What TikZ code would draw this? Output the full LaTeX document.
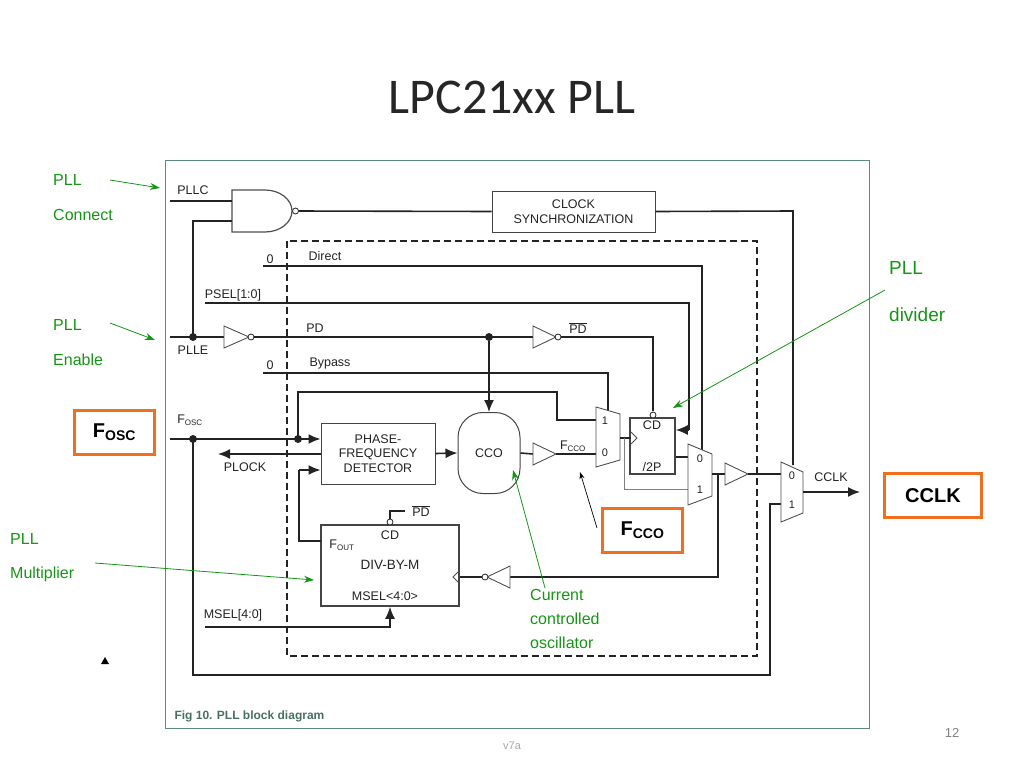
\documentclass[tikz,border=0pt]{standalone}
\usepackage{fontspec}
\setmainfont{Liberation Sans}
\newfontfamily\titlefont{Carlito}
\usetikzlibrary{arrows.meta}
\definecolor{frame}{RGB}{90,140,120}
\definecolor{ann}{RGB}{20,150,20}
\definecolor{org}{RGB}{240,110,30}
\definecolor{ink}{RGB}{35,35,35}
\tikzset{
  w/.style={line width=1.6pt,draw=ink},
  thin/.style={line width=0.9pt,draw=ink!80},
  arr/.style={-{Latex[length=12pt,width=10pt]}},
  lbl/.style={font=\fontsize{12.5}{14}\selectfont,text=ink,inner sep=0pt},
  box/.style={draw=ink!85,line width=1pt,font=\fontsize{12.5}{14.5}\selectfont,align=center,text=ink},
  an/.style={text=ann,font=\fontsize{16}{18}\selectfont,inner sep=0pt,anchor=west},
  ga/.style={draw=ann,line width=0.8pt,-{Stealth[length=10pt,width=7pt]}},
  ob/.style={draw=org,line width=3pt,fill=white,font=\bfseries\fontsize{20}{22}\selectfont,minimum height=44pt,inner sep=0pt},
  bub/.style={circle,draw=ink,fill=white,line width=0.8pt,inner sep=0pt,minimum size=6pt},
  dot/.style={circle,fill=ink,inner sep=0pt,minimum size=8pt},
  mx/.style={lbl,font=\fontsize{11}{12}\selectfont},
}
\begin{document}
\begin{tikzpicture}[x=1pt,y=-1pt]
\useasboundingbox (0,0) rectangle (1024,768);
\node[font=\titlefont\fontsize{50}{56}\selectfont,text=black!85] (title) at (512,97) {LPC21xx PLL};
\draw[frame,line width=1pt] (165,160) rectangle (869,728);
\node[anchor=west,text=frame!80!black,font=\bfseries\fontsize{12}{14}\selectfont] (cap) at (171,716) {Fig 10. PLL block diagram};
\draw[w,dash pattern=on 7pt off 4pt] (287,241) rectangle (757,656);
\node[box,minimum width=163pt,minimum height=41pt] (sync) at (573.5,211.5) {CLOCK\\SYNCHRONIZATION};
\node[box,minimum width=114pt,minimum height=61pt] (pfd) at (378,453.5) {PHASE-\\FREQUENCY\\DETECTOR};
\node[box,rounded corners=25pt,minimum width=62pt,minimum height=81pt] (cco) at (489,453) {CCO};
\node[box,line width=1.6pt,minimum width=45pt,minimum height=56pt] (cd) at (652.5,446) {};
\node[lbl] at (652,425) {CD}; \node[lbl] at (652,467) {/2P};
\node[box,line width=1.6pt,minimum width=138pt,minimum height=81pt] (div) at (390,565.5) {};
\node[lbl] at (390,535) {CD}; \node[lbl,font=\fontsize{13.5}{15}\selectfont] at (390,565) {DIV-BY-M};
\node[lbl] at (385,596) {MSEL<4:0>};
\draw[thin,line width=1.2pt,fill=white] (232,190) -- (265,190) arc (-90:90:27 and 21) -- (232,232) -- cycle;
\node[bub] (nb) at (295.5,211) {};
\coordinate (pllc) at (170,201);
\coordinate (plle) at (170,337);
\coordinate (fosc) at (170,439);
\draw[w] (pllc) -- (232,201);
\draw[w] (232,221) -- (193,221) -- (193,337);
\node[dot] (d1) at (193,337) {};
\draw[w] (plle) -- (224,337);
\draw[thin,fill=white] (224,326) -- (249,337) -- (224,348) -- cycle;
\node[bub] (ib1) at (251,337) {};
\draw[w] (ib1) -- (533,337);
\node[dot] (d2) at (489,337) {};
\draw[w,arr] (d2) -- (cco.north);
\draw[thin,fill=white] (533,326) -- (556,337) -- (533,348) -- cycle;
\node[bub] (ib2) at (558,337) {};
\draw[w] (ib2) -- (653,337) -- (653,411);
\node[bub] (cdb) at (653,415) {};
\draw[w] (nb) -- (sync.west);
\draw[w] (sync.east) -- (793,211) -- (793,465);
\draw[w] (263,266) -- (702,266) -- (702,450);
\draw[w] (205,303) -- (689,303) -- (689,430);
\draw[w,arr] (689,430) -- (cd.east|-0,430);
\draw[w] (263,373) -- (608,373) -- (608,411);
\draw[w,arr] (fosc) -- (pfd.west|-0,439);
\node[dot] (d3) at (193,439) {};
\node[dot] (d4) at (298,439) {};
\draw[w] (298,439) -- (298,392) -- (557,392) -- (557,420) -- (596,420);
\draw[w] (193,439) -- (193,675) -- (770,675) -- (770,504) -- (781,504);
\coordinate (plock) at (218,454);
\draw[w,arr] (pfd.west|-0,454) -- (plock);
\draw[w] (321,541) -- (299,541) -- (299,470);
\draw[w,arr] (299,470) -- (pfd.west|-0,470);
\draw[w,arr] (pfd.east) -- (cco.west);
\draw[w] (cco.east) -- (533,454);
\draw[thin,fill=white] (533,443) -- (556,454) -- (533,465) -- cycle;
\draw[w] (556,454) -- (596,454);
\draw[thin,fill=white] (596,407) -- (620,414) -- (620,460) -- (596,467) -- cycle;
\node[mx] at (605,421) {1};
\node[mx] at (605,453) {0};
\draw[w] (620,438) -- (631,438);
\draw[thin,fill=white] (631,432) -- (637,438) -- (631,444);
\draw[draw=gray,line width=1pt] (624,438) -- (624,489) -- (688,489);
\draw[w] (cd.east|-0,457) -- (688,457);
\draw[thin,fill=white] (688,444) -- (712,454) -- (712,496) -- (688,505) -- cycle;
\node[mx] at (700,459) {0};
\node[mx] at (700,490) {1};
\draw[w] (712,474) -- (725,474);
\draw[thin,fill=white] (725,463) -- (748,474) -- (725,485) -- cycle;
\draw[w] (748,474) -- (781,474);
\draw[w] (718,474) -- (718,577) -- (510,577);
\draw[thin,fill=white] (510,566) -- (487,577) -- (510,588) -- cycle;
\node[bub] (ib3) at (485,577) {};
\draw[w] (ib3) -- (div.east|-0,577);
\draw[thin] (459,571) -- (453,577) -- (459,583);
\draw[thin,fill=white] (781,462) -- (803,472) -- (803,513) -- (781,522) -- cycle;
\node[mx] at (792,476) {0};
\node[mx] at (792,505) {1};
\coordinate (cclk) at (860,492);
\draw[w,arr] (803,492) -- (cclk);
\node[bub] (db) at (390,522) {};
\draw[w] (db) -- (390,511) -- (405,511);
\draw[w,arr] (205,627) -- (390,627) -- (div.south);
\node[lbl] at (193,190) {PLLC};
\node[lbl] at (193,350) {PLLE};
\node[lbl] at (190,420) {F\textsubscript{\fontsize{8}{9}\selectfont OSC}};
\node[lbl] at (270,259) {0}; \node[lbl] at (325,256) {Direct};
\node[lbl] at (233,295) {PSEL[1:0]};
\node[lbl] at (315,328) {PD};
\node[lbl] at (578,328) {$\overline{\hbox{PD}}$};
\node[lbl] at (270,365) {0}; \node[lbl] at (330,363) {Bypass};
\node[lbl] at (245,467) {PLOCK};
\node[lbl] at (573,446) {F\textsubscript{\fontsize{8}{9}\selectfont CCO}};
\node[lbl] at (342,545) {F\textsubscript{\fontsize{8}{9}\selectfont OUT}};
\node[lbl] at (421,511) {$\overline{\hbox{PD}}$};
\node[lbl] at (233,615) {MSEL[4:0]};
\node[lbl] at (831,477) {CCLK};
\node[an] (a1) at (53,180) {PLL}; \node[an] at (53,215) {Connect};
\draw[ga] (110,180) -- (160,188);
\node[an] (a2) at (53,325) {PLL}; \node[an] at (53,360) {Enable};
\draw[ga] (110,323) -- (155,340);
\node[an,font=\fontsize{19}{21}\selectfont] (a3) at (889,268) {PLL};
\node[an,font=\fontsize{19}{21}\selectfont] at (889,315) {divider};
\draw[ga] (885,290) -- (673,408);
\node[an] (a4) at (10,539) {PLL}; \node[an] at (10,574) {Multiplier};
\draw[ga] (95,563) -- (314,580);
\node[an,anchor=north west,align=left,font=\fontsize{16}{24}\selectfont] (a5) at (530,589) {Current\\controlled\\oscillator};
\draw[ga] (545,588) -- (513,470);
\node[ob,minimum width=80pt] (bf) at (114.5,432.5) {F\textsubscript{OSC}};
\node[ob,minimum width=97pt] (bc) at (933,495.5) {CCLK};
\node[ob,minimum width=80pt] (bx) at (642.5,530.5) {F\textsubscript{CCO}};
\draw[line width=0.7pt,-{Stealth[length=7pt,width=5pt]}] (597,528) -- (580,472);
\fill (101,664) -- (105,657) -- (109,664) -- cycle;
\node[text=gray,font=\fontsize{13}{15}\selectfont] (pg) at (952,733) {12};
\node[text=gray!70,font=\fontsize{11}{13}\selectfont] (ver) at (512,746) {v7a};
\end{tikzpicture}
\end{document}
